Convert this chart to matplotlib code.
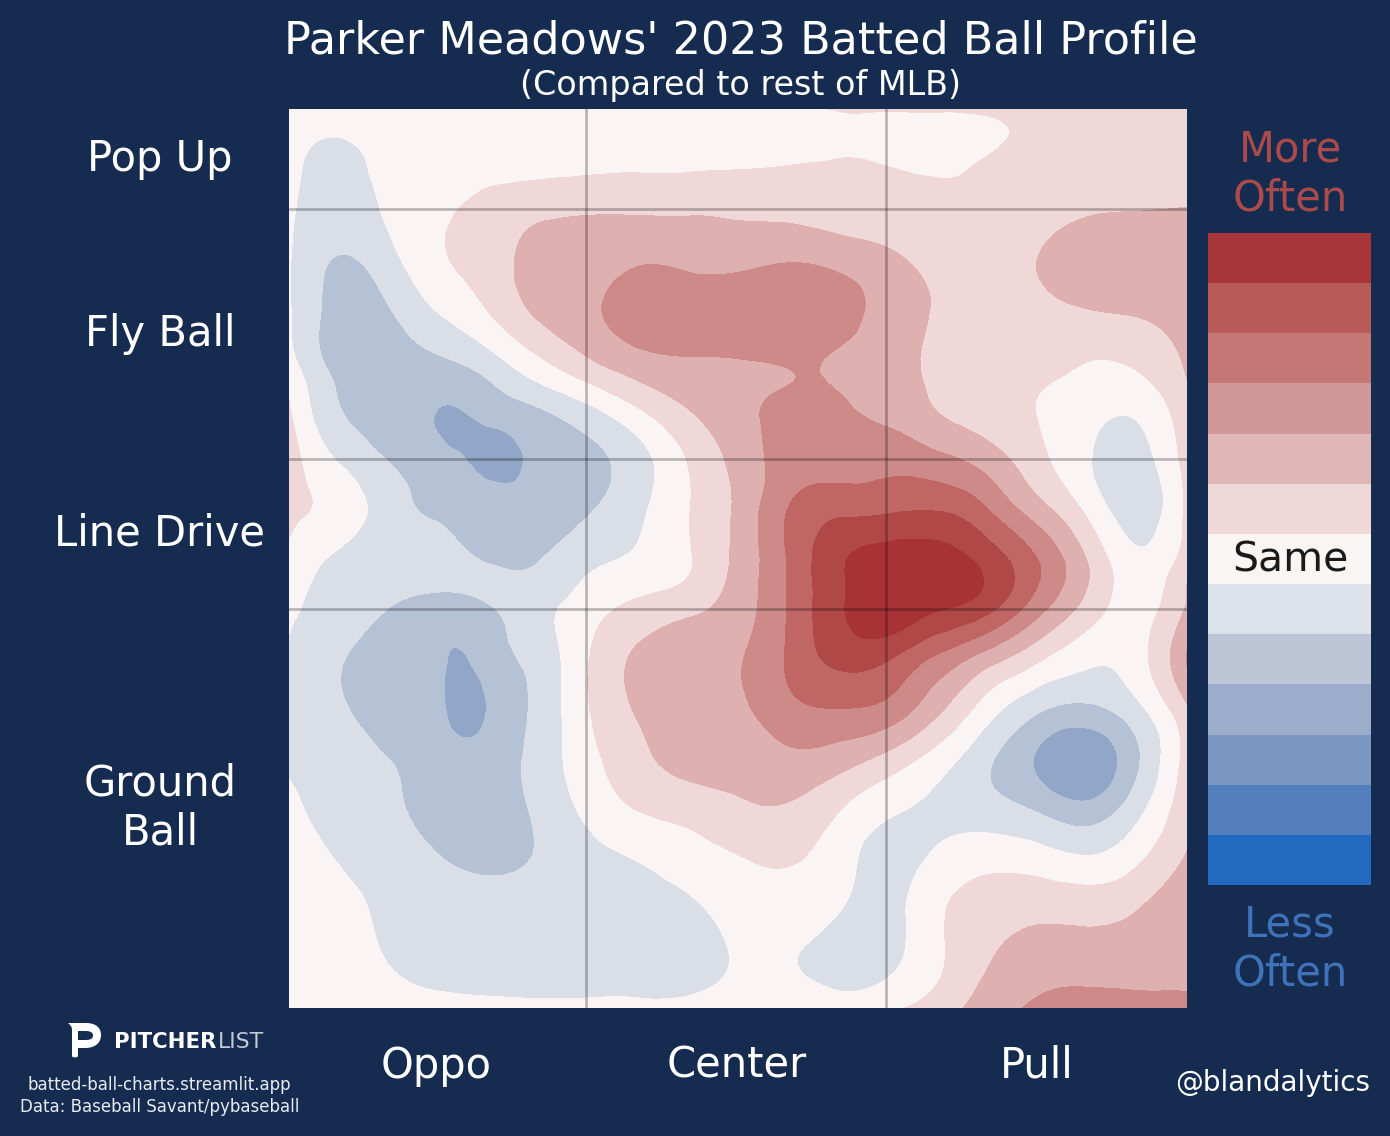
import numpy as np
import matplotlib
matplotlib.use("Agg")
import matplotlib.pyplot as plt
import matplotlib.tri as mtri
from matplotlib.path import Path
from matplotlib.patches import PathPatch

W, H = 1390, 1136
BG = '#162b50'

# spray angle columns, launch angle rows (degrees), values = bands above/below league
spray = np.arange(-45, 46, 5)
launch = [60, 57.5, 55, 50, 45, 40, 35, 32.5, 30, 25, 20, 15, 12.5, 10, 5, 0, -5, -10, -15, -20, -25, -30]

row_60 = [0.05, 0.0, 0.05, 0.15, 0.2, 0.2, 0.2, 0.2, 0.25, 0.3, 0.4, 0.55, 0.55, 0.6, 0.7, 0.85, 1.0, 1.0, 1.0]
row_57p5 = [0.0, -0.42, 0.0, 0.1, 0.1, 0.1, 0.1, 0.1, 0.1, 0.1, 0.15, 0.2, 0.15, 0.1, 0.25, 0.85, 1.05, 1.05, 1.05]
row_55 = [-0.05, -0.85, -0.1, 0.05, 0.1, 0.15, 0.2, 0.25, 0.25, 0.3, 0.4, 0.5, 0.4, 0.25, 0.55, 1.0, 1.1, 1.1, 1.1]
row_50 = [-0.3, -1.05, -0.35, 0.25, 0.85, 1.2, 1.35, 1.35, 1.35, 1.3, 1.2, 1.05, 0.9, 0.8, 0.85, 1.15, 1.4, 1.47, 1.52]
row_45 = [-0.4, -1.55, -0.85, 0.35, 1.0, 1.9, 2.1, 2.35, 2.25, 2.2, 2.4, 2.15, 1.7, 1.15, 1.0, 1.5, 1.95, 2.0, 2.0]
row_40 = [-0.4, -1.85, -1.55, -0.4, 0.55, 1.7, 2.3, 3.0, 3.0, 3.0, 3.05, 2.9, 2.1, 1.4, 1.05, 1.25, 1.5, 1.65, 1.95]
row_35 = [-0.2, -1.9, -2.0, -1.6, -0.85, 0.4, 1.45, 2.2, 2.45, 2.5, 2.62, 2.35, 1.95, 1.25, 1.05, 0.9, 0.55, 0.7, 1.65]
row_32p5 = [0.3, -1.6, -2.0, -2.1, -1.6, -0.55, 0.45, 1.4, 1.95, 2.25, 2.48, 2.4, 2.05, 1.3, 1.0, 0.6, 0.2, 0.25, 1.45]
row_30 = [0.6, -1.45, -1.95, -2.5, -2.05, -1.55, -0.7, 0.45, 1.5, 2.2, 2.8, 2.7, 2.2, 1.45, 0.95, 0.48, -0.1, -0.3, 1.2]
row_25 = [0.95, -0.6, -1.55, -2.15, -2.85, -2.25, -1.75, -0.9, 0.55, 1.85, 2.9, 3.1, 3.15, 2.75, 2.0, 0.8, -0.4, -0.85, 0.9]
row_20 = [0.7, 0.1, -1.0, -1.7, -2.1, -2.1, -1.6, -0.75, 0.45, 1.7, 3.5, 4.2, 4.3, 4.4, 3.5, 1.9, 0.25, -1.0, 0.7]
row_15 = [0.3, -0.7, -1.1, -1.1, -1.6, -1.55, -0.8, -0.35, 0.4, 1.75, 3.55, 5.3, 5.9, 5.9, 5.1, 3.5, 1.45, -0.3, 0.95]
row_12p5 = [-0.1, -0.95, -1.25, -1.3, -1.25, -1.2, -0.35, 0.1, 0.6, 1.85, 3.55, 5.3, 6.1, 6.0, 5.4, 3.55, 1.55, 0.0, 1.5]
row_10 = [-0.35, -1.0, -1.5, -1.85, -1.6, -0.85, 0.05, 0.78, 1.25, 2.0, 3.55, 5.3, 6.2, 5.6, 4.8, 2.9, 1.1, 0.1, 1.6]
row_5 = [-0.6, -1.4, -1.9, -2.35, -2.1, -1.1, 0.45, 1.65, 2.0, 2.4, 3.6, 4.75, 4.6, 3.3, 2.0, 0.7, -0.25, 0.1, 2.55]
row_0 = [-0.7, -1.35, -1.85, -2.3, -2.45, -1.25, 0.44, 1.6, 2.1, 2.3, 3.2, 3.5, 3.2, 1.75, 0.0, -1.3, -1.7, -0.75, 1.35]
row_m5 = [-0.6, -1.0, -1.5, -2.0, -2.1, -1.15, 0.18, 1.2, 1.9, 1.95, 2.25, 2.0, 1.2, 0.05, -1.3, -2.6, -3.3, -1.65, 0.85]
row_m10 = [-0.3, -0.9, -1.35, -1.85, -2.05, -1.3, -0.25, 0.55, 0.9, 1.3, 1.4, 0.6, -0.3, -0.7, -1.1, -1.65, -2.2, -0.85, 1.15]
row_m15 = [0.0, -0.55, -1.0, -1.45, -1.8, -1.4, -0.8, -0.45, 0.0, 0.45, 0.6, -0.05, -0.85, -0.3, 0.15, -0.03, -0.4, 0.3, 1.6]
row_m20 = [0.0, -0.2, -0.7, -0.95, -1.05, -1.05, -0.95, -0.85, -0.7, -0.05, 0.1, -0.4, -0.85, 0.3, 0.95, 1.2, 1.1, 1.45, 2.4]
row_m25 = [0.05, 0.05, -0.55, -0.85, -0.95, -1.0, -1.0, -1.0, -0.95, -0.4, -0.4, -0.95, -0.8, 0.3, 1.4, 2.0, 2.05, 2.15, 2.3]
row_m30 = [0.0, 0.1, 0.05, -0.2, -0.25, -0.3, -0.3, -0.3, -0.25, 0.0, 0.1, 0.0, 0.3, 0.95, 2.0, 2.65, 2.85, 2.7, 2.7]

# extra readings: the two small left-hand dips and the neck joining the two red areas
extra_spray = [-27.5, -27.5, -25, -27.5, -27.5, -27.5, -27.5, 7.5, 7.5]
extra_launch = [30, 27.5, 27.5, 25, 5, 0, -5, 32.5, 35]
extra_value = [-2.45, -2.8, -2.7, -2.45, -2.55, -2.85, -2.25, 2.62, 2.62]

z = np.array([row_60, row_57p5, row_55, row_50, row_45, row_40, row_35, row_32p5, row_30, row_25, row_20,
              row_15, row_12p5, row_10, row_5, row_0, row_m5, row_m10, row_m15, row_m20, row_m25, row_m30])

band_levels = np.arange(-6.5, 7.5, 1)
map_colors = ['#226abf', '#5380bc', '#7b97c1', '#92a6c7', '#b5c1d4', '#dadee6', '#faf5f4',
              '#efd8d7', '#deb0af', '#cd8a88', '#c06766', '#b04847', '#a83337']
bar_colors = ['#226abf', '#5380bc', '#7b97c1', '#9badcb', '#bcc6d7', '#dde1e9', '#f9f5f3',
              '#efd9d8', '#e0b7b5', '#d29897', '#c57776', '#b85a57', '#a8353a']

x_labels = ['Oppo', 'Center', 'Pull']
x_label_pos = [-30.2, -0.1, 30]
y_labels = ['Pop Up', 'Fly Ball', 'Line Drive', 'Ground\nBall']
y_label_pos = [55, 37.5, 17.5, -10]
v_lines = [-15.2, 14.8]
h_lines = [50, 25, 9.95]

fig = plt.figure(figsize=(W / 100, H / 100), dpi=100, facecolor=BG)


def px_text(x, y, s, size, color='white', **kw):
    fig.text(x / W, 1 - y / H, s, fontsize=size, color=color, ha='center', va='center', **kw)


ax = fig.add_axes([288.5 / W, 1 - 1008 / H, 898.5 / W, 899 / H])
xx, yy = np.meshgrid(spray, launch)
tri = mtri.Triangulation(np.concatenate([xx.ravel(), extra_spray]).astype(float),
                         np.concatenate([yy.ravel(), extra_launch]).astype(float))
refiner = mtri.UniformTriRefiner(tri)
tri_fine, z_fine = refiner.refine_field(np.concatenate([z.ravel(), extra_value]), subdiv=3)
ax.tricontourf(tri_fine, z_fine, levels=band_levels, colors=map_colors, antialiased=False)
for v in v_lines:
    ax.axvline(v, color='black', alpha=0.26, lw=2)
for h in h_lines:
    ax.axhline(h, color='black', alpha=0.26, lw=2)
ax.set_xlim(-45, 45)
ax.set_ylim(-30, 60)
ax.set_xticks([])
ax.set_yticks([])
for s in ax.spines.values():
    s.set_visible(False)

# legend bar
cax = fig.add_axes([1208 / W, 1 - 885 / H, 163 / W, 652 / H])
cax.bar(np.zeros(13), np.ones(13), bottom=np.arange(13), width=1, color=bar_colors)
cax.set_xlim(-0.5, 0.5)
cax.set_ylim(0, 13)
cax.axis('off')
px_text(1290, 561, 'Same', 29.4, color='#1a1a1a')

px_text(741, 41, "Parker Meadows' 2023 Batted Ball Profile", 32)
px_text(741, 85, '(Compared to rest of MLB)', 24)
px_text(1290.5, 174, 'More\nOften', 30, color='#ab4a4a')
px_text(1290, 949, 'Less\nOften', 30, color='#3f72b8')

for s, v in zip(x_labels, x_label_pos):
    ax.annotate(s, xy=(v, -30), xytext=(0, -58), textcoords='offset pixels', ha='center', va='center',
                fontsize=30, color='white', annotation_clip=False)
for s, v in zip(y_labels, y_label_pos):
    ax.annotate(s, xy=(-45, v), xytext=(-128.5, 0), textcoords='offset pixels', ha='center', va='center',
                fontsize=30, color='white', annotation_clip=False)

px_text(1273, 1083, '@blandalytics', 20)
px_text(159.5, 1085, 'batted-ball-charts.streamlit.app', 12, color='#e8ebf0')
px_text(159.5, 1107, 'Data: Baseball Savant/pybaseball', 12, color='#e8ebf0')

# logo
lax = fig.add_axes([0, 0, 1, 1])
lax.set_xlim(0, W)
lax.set_ylim(H, 0)
lax.axis('off')
lax.patch.set_alpha(0)
verts = [(68, 1023), (86, 1023), (96, 1023), (101, 1028), (101, 1035), (101, 1043), (95, 1048), (85, 1048),
         (78, 1048), (78, 1056), (78, 1058), (72, 1058), (72, 1056), (72, 1030), (72, 1026), (70, 1025), (68, 1023),
         (68, 1023),
         (78, 1040), (85, 1040), (90, 1040), (93, 1039), (93, 1035.5), (93, 1032), (90, 1031), (85, 1031),
         (78, 1031), (78, 1040)]
codes = [Path.MOVETO, Path.LINETO, Path.CURVE4, Path.CURVE4, Path.CURVE4, Path.CURVE4, Path.CURVE4, Path.CURVE4,
         Path.LINETO, Path.LINETO, Path.CURVE4, Path.CURVE4, Path.CURVE4, Path.LINETO, Path.CURVE4, Path.CURVE4,
         Path.CURVE4, Path.CLOSEPOLY,
         Path.MOVETO, Path.LINETO, Path.CURVE4, Path.CURVE4, Path.CURVE4, Path.CURVE4, Path.CURVE4, Path.CURVE4,
         Path.LINETO, Path.CLOSEPOLY]
lax.add_patch(PathPatch(Path(verts, codes), fc='white', ec='none'))
lax.text(114, 1042, 'PITCHER', fontsize=15.3, color='white', fontweight='bold', va='center')
lax.text(218, 1042, 'LIST', fontsize=15.8, color='#c4c9d4', va='center')

fig.savefig('out.png', dpi=100, facecolor=BG)
